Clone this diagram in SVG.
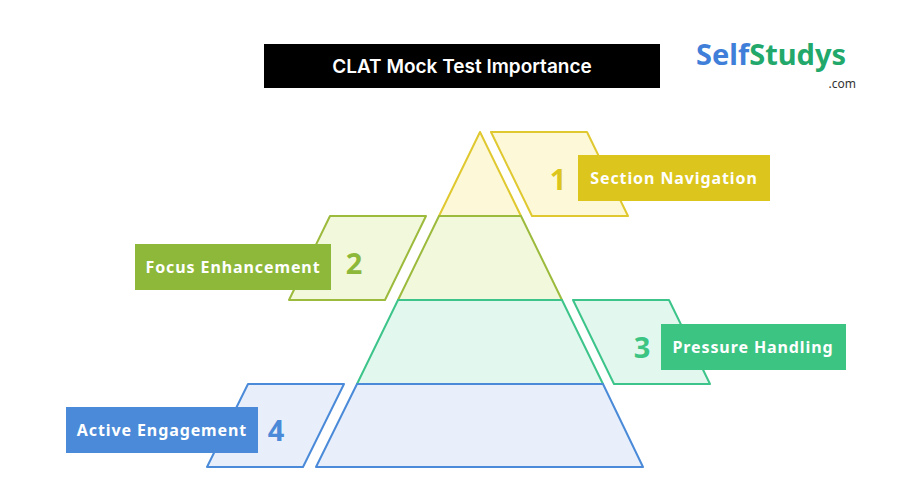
<svg xmlns="http://www.w3.org/2000/svg" width="924" height="503" viewBox="0 0 924 503">
<style>
.t{font-family:"Noto Sans","Open Sans",sans-serif;font-weight:bold}
.lbl{font-size:16px;fill:#fff;letter-spacing:0.9px}
.num{font-size:29px}
.s{stroke-width:2;stroke-linejoin:round}
</style>
<rect width="924" height="503" fill="#fff"/>
<g id="title"><rect x="264" y="44" width="396" height="44" fill="#000"/><text x="462" y="73" font-family="Inter,'Noto Sans',sans-serif" font-size="19" font-weight="600" fill="#fff" text-anchor="middle">CLAT Mock Test Importance</text></g>
<g id="logo"><text class="t" x="696" y="65" font-size="29" fill="#3f7fd9">Self<tspan fill="#21a86a">Studys</tspan></text><text x="856" y="88" font-family="Noto Sans,sans-serif" font-size="12" fill="#333" text-anchor="end">.com</text></g>
<g id="tier1"><polygon class="s" points="480,132 521,216 439,216" fill="#fdf8d8" stroke="#e0c830"/><polygon class="s" points="491,132 587,132 628,216 532,216" fill="#fdf8d8" stroke="#e0c830"/><rect x="578" y="155" width="192" height="46" fill="#dcc51c"/><text class="t lbl" x="674" y="184" text-anchor="middle">Section Navigation</text><text class="t num" x="558" y="190" fill="#dcc51c" text-anchor="middle">1</text></g>
<g id="tier2"><polygon class="s" points="439,216 521,216 562,300 398,300" fill="#f2f8dc" stroke="#9cba3c"/><polygon class="s" points="330,216 426,216 385,300 289,300" fill="#f2f8dc" stroke="#9cba3c"/><rect x="135" y="244" width="196" height="46" fill="#8db83a"/><text class="t lbl" x="233" y="273" text-anchor="middle">Focus Enhancement</text><text class="t num" x="354" y="274" fill="#8db83a" text-anchor="middle">2</text></g>
<g id="tier3"><polygon class="s" points="398,300 562,300 603,384 357,384" fill="#e2f8ee" stroke="#3cc48a"/><polygon class="s" points="573,300 669,300 710,384 614,384" fill="#e2f8ee" stroke="#3cc48a"/><rect x="661" y="324" width="185" height="46" fill="#3cc483"/><text class="t lbl" x="753" y="353" text-anchor="middle">Pressure Handling</text><text class="t num" x="642" y="358" fill="#3cc483" text-anchor="middle">3</text></g>
<g id="tier4"><polygon class="s" points="357,384 603,384 643,467 316,467" fill="#e8effa" stroke="#4a8ad8"/><polygon class="s" points="248,384 344,384 303,467 207,467" fill="#e8effa" stroke="#4a8ad8"/><rect x="66" y="407" width="192" height="46" fill="#4a8ad8"/><text class="t lbl" x="162" y="436" text-anchor="middle">Active Engagement</text><text class="t num" x="276" y="441" fill="#4a8ad8" text-anchor="middle">4</text></g>
<g id="connectors"></g>
</svg>
